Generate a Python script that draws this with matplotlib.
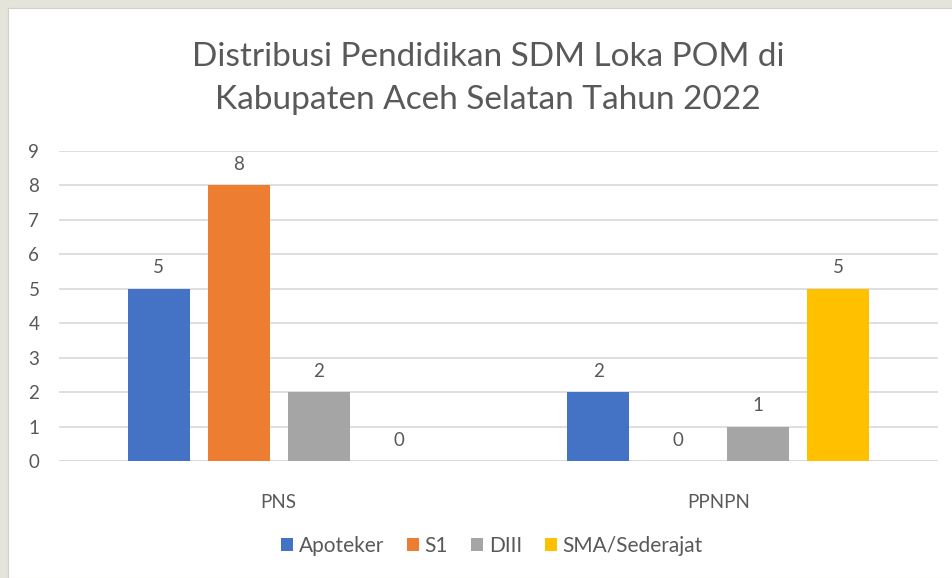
import numpy as np
import matplotlib.pyplot as plt

# data
kategori = ["PNS", "PPNPN"]
seri = ["Apoteker", "S1", "DIII", "SMA/Sederajat"]
apoteker = [5, 2]
s1 = [8, 0]
diii = [2, 1]
sma = [0, 5]
warna = ["#4472C4", "#ED7D31", "#A5A5A5", "#FFC000"]

plt.rcParams['font.family'] = ['Lato', 'DejaVu Sans']
teks = "#595959"

fig = plt.figure(figsize=(9.53, 5.78), dpi=100, facecolor="#E4E4DA")
# panel putih di belakang
bg = fig.add_axes([8 / 953, 0, 1 - 8 / 953, 1 - 8 / 578], zorder=-1)
bg.set_facecolor("white")
bg.set_xticks([])
bg.set_yticks([])
for s in bg.spines.values():
    s.set_color("#D0D0C8")
    s.set_linewidth(0.8)

ax = fig.add_axes([59 / 953, 1 - 461 / 578, (938 - 59) / 953, (461 - 151) / 578])
ax.set_facecolor("none")

x = np.arange(len(kategori))
step = 0.182
lebar = 0.141
for i, (nama, nilai) in enumerate(zip(seri, [apoteker, s1, diii, sma])):
    pos = x + (i - 1.5) * step
    bars = ax.bar(pos, nilai, lebar, color=warna[i], label=nama, zorder=3)
    for b, v in zip(bars, nilai):
        ax.annotate(str(v), (b.get_x() + b.get_width() / 2, v), xytext=(0, 9),
                    textcoords="offset points", ha="center", va="bottom",
                    fontsize=13.5, color=teks)

ax.set_xlim(-0.5, 1.5)
ax.set_ylim(0, 9)
ax.set_yticks(range(10))
ax.set_xticks(x)
ax.set_xticklabels(kategori)
ax.grid(axis="y", color="#D9D9D9", lw=1.2, zorder=0)
ax.tick_params(axis="both", length=0, labelsize=13.5, labelcolor=teks)
ax.tick_params(axis="x", pad=24)
ax.tick_params(axis="y", pad=22)
for yl in ax.get_yticklabels():
    yl.set_horizontalalignment("left")
for s in ax.spines.values():
    s.set_visible(False)
ax.axhline(0, color="#D9D9D9", lw=1.2, zorder=2)

fig.text(0.512, 1 - 57 / 578, "Distribusi Pendidikan SDM Loka POM di",
         ha="center", va="center", fontsize=24, color=teks)
fig.text(0.512, 1 - 100 / 578, "Kabupaten Aceh Selatan Tahun 2022",
         ha="center", va="center", fontsize=24, color=teks)

ax.legend(loc="center", bbox_to_anchor=(0.516, 1 - 546 / 578), bbox_transform=fig.transFigure,
          ncol=4, frameon=False, fontsize=15, labelcolor=teks, handlelength=0.6,
          handleheight=0.6, handletextpad=0.25, columnspacing=1.1)

fig.savefig("out.png", dpi=100, facecolor=fig.get_facecolor())
